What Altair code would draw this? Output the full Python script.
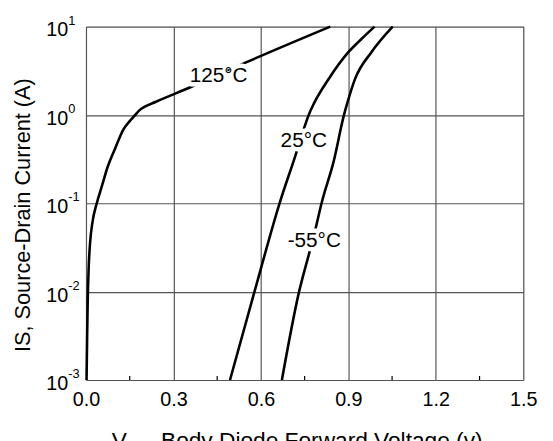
import altair as alt
import pandas as pd

FONT = "Liberation Sans"

# ---- data ----
v_125 = [0.002, 0.004, 0.006, 0.009, 0.014, 0.022, 0.037, 0.055, 0.073, 0.100,
         0.129, 0.150, 0.169, 0.182, 0.202, 0.240, 0.360, 0.551, 0.838]
i_125 = [0.001, 0.00316, 0.00794, 0.0178, 0.0355, 0.0603, 0.1, 0.158, 0.251, 0.417,
         0.692, 0.851, 1.0, 1.12, 1.24, 1.41, 2.07, 3.96, 10.0]

v_25 = [0.494, 0.578, 0.664, 0.720, 0.748, 0.764, 0.782, 0.833, 0.900, 0.945, 0.990]
i_25 = [0.001, 0.01, 0.1, 0.361, 0.708, 1.0, 1.35, 2.57, 5.13, 7.24, 10.0]

v_m55 = [0.672, 0.731, 0.766, 0.788, 0.808, 0.850, 0.885, 0.896, 0.922, 0.979, 1.052]
i_m55 = [0.001, 0.01, 0.0275, 0.0525, 0.1, 0.302, 1.0, 1.35, 2.51, 5.13, 10.0]

curve_labels = ["125°C", "25°C", "-55°C"]
label_v = [0.455, 0.747, 0.783]
label_i = [2.72, 0.506, 0.0372]

x_ticks = [0.0, 0.3, 0.6, 0.9, 1.2, 1.5]
x_minor = [0.15, 0.45, 0.75, 1.05, 1.35]
y_exponents = [1, 0, -1, -2, -3]

W, H = 443, 358

rows = []
for name, vs, iss in [("125", v_125, i_125), ("25", v_25, i_25), ("-55", v_m55, i_m55)]:
    for k, (v, i) in enumerate(zip(vs, iss)):
        rows.append({"series": name, "order": k, "v": v, "i": i})
df = pd.DataFrame(rows)

xscale = alt.Scale(domain=[0, 1.5], nice=False, zero=False)
yscale = alt.Scale(type="log", domain=[0.001, 10], nice=False)

base_grid = alt.Chart(pd.DataFrame({"v": [0.0], "i": [1.0]})).mark_point(opacity=0).encode(
    x=alt.X("v:Q", scale=xscale,
            axis=alt.Axis(values=x_ticks, format=".1f", labelFontSize=20, labelFont=FONT,
                          labelColor="black", ticks=False, domain=False, grid=True,
                          gridColor="#555", gridWidth=1.2, labelPadding=10, title=None,
                          labelFlush=False)),
    y=alt.Y("i:Q", scale=yscale,
            axis=alt.Axis(values=[0.001, 0.01, 0.1, 1, 10], labels=False, ticks=False,
                          domain=False, grid=True, gridColor="#555", gridWidth=1.2,
                          title=None)),
)

lines = alt.Chart(df).mark_line(color="black", strokeWidth=2.6, interpolate="monotone").encode(
    x=alt.X("v:Q", scale=xscale),
    y=alt.Y("i:Q", scale=yscale),
    detail="series:N",
    order="order:Q",
)

minor = alt.Chart(pd.DataFrame({"v": x_minor})).mark_rule(color="black", strokeWidth=1.2).encode(
    x=alt.X("v:Q", scale=xscale),
    y=alt.value(H),
    y2=alt.value(H - 4),
)

lab_df = pd.DataFrame({"t": curve_labels, "v": label_v, "i": label_i})
halo = alt.Chart(lab_df).mark_text(font=FONT, fontSize=21, stroke="white", strokeWidth=9,
                                   fill="white", strokeJoin="round").encode(
    x=alt.X("v:Q", scale=xscale), y=alt.Y("i:Q", scale=yscale), text="t:N")
labs = alt.Chart(lab_df).mark_text(font=FONT, fontSize=21, color="black").encode(
    x=alt.X("v:Q", scale=xscale), y=alt.Y("i:Q", scale=yscale), text="t:N")

ydf = pd.DataFrame({"e": y_exponents, "i": [10.0 ** e for e in y_exponents],
                    "base": ["10"] * len(y_exponents),
                    "exp": [str(e) for e in y_exponents]})
ybase = alt.Chart(ydf).mark_text(font=FONT, fontSize=20, align="right", baseline="middle",
                                 dy=4, color="black").encode(
    x=alt.value(-18), y=alt.Y("i:Q", scale=yscale), text="base:N")
yexp = alt.Chart(ydf).mark_text(font=FONT, fontSize=13, align="left", baseline="middle",
                                dy=-6, color="black").encode(
    x=alt.value(-18), y=alt.Y("i:Q", scale=yscale), text="exp:N")

ytitle = alt.Chart(pd.DataFrame({"t": ["IS,  Source-Drain Current (A)"]})).mark_text(
    font=FONT, fontSize=22, angle=270, align="center", baseline="middle", color="black"
).encode(x=alt.value(-64), y=alt.value(191), text="t:N")

xt1 = alt.Chart(pd.DataFrame({"t": ["V"]})).mark_text(
    font=FONT, fontSize=23, align="left", baseline="top", color="black"
).encode(x=alt.value(26), y=alt.value(H + 51), text="t:N")
xt2 = alt.Chart(pd.DataFrame({"t": ["SD,"]})).mark_text(
    font=FONT, fontSize=15, align="left", baseline="top", color="black"
).encode(x=alt.value(42), y=alt.value(H + 63), text="t:N")
xt3 = alt.Chart(pd.DataFrame({"t": ["Body Diode Forward Voltage (v)"]})).mark_text(
    font=FONT, fontSize=23, align="left", baseline="top", color="black"
).encode(x=alt.value(76), y=alt.value(H + 51), text="t:N")

chart = alt.layer(base_grid, lines, minor, halo, labs, ybase, yexp, ytitle, xt1, xt2, xt3).properties(
    width=W, height=H,
    autosize=alt.AutoSizeParams(type="none"),
    padding={"left": 79, "top": 16, "right": 22, "bottom": 60},
).configure_view(stroke="black", strokeWidth=2.6).configure(background="white")

chart.save("out.html", embed_options={"renderer": "svg", "actions": False})
